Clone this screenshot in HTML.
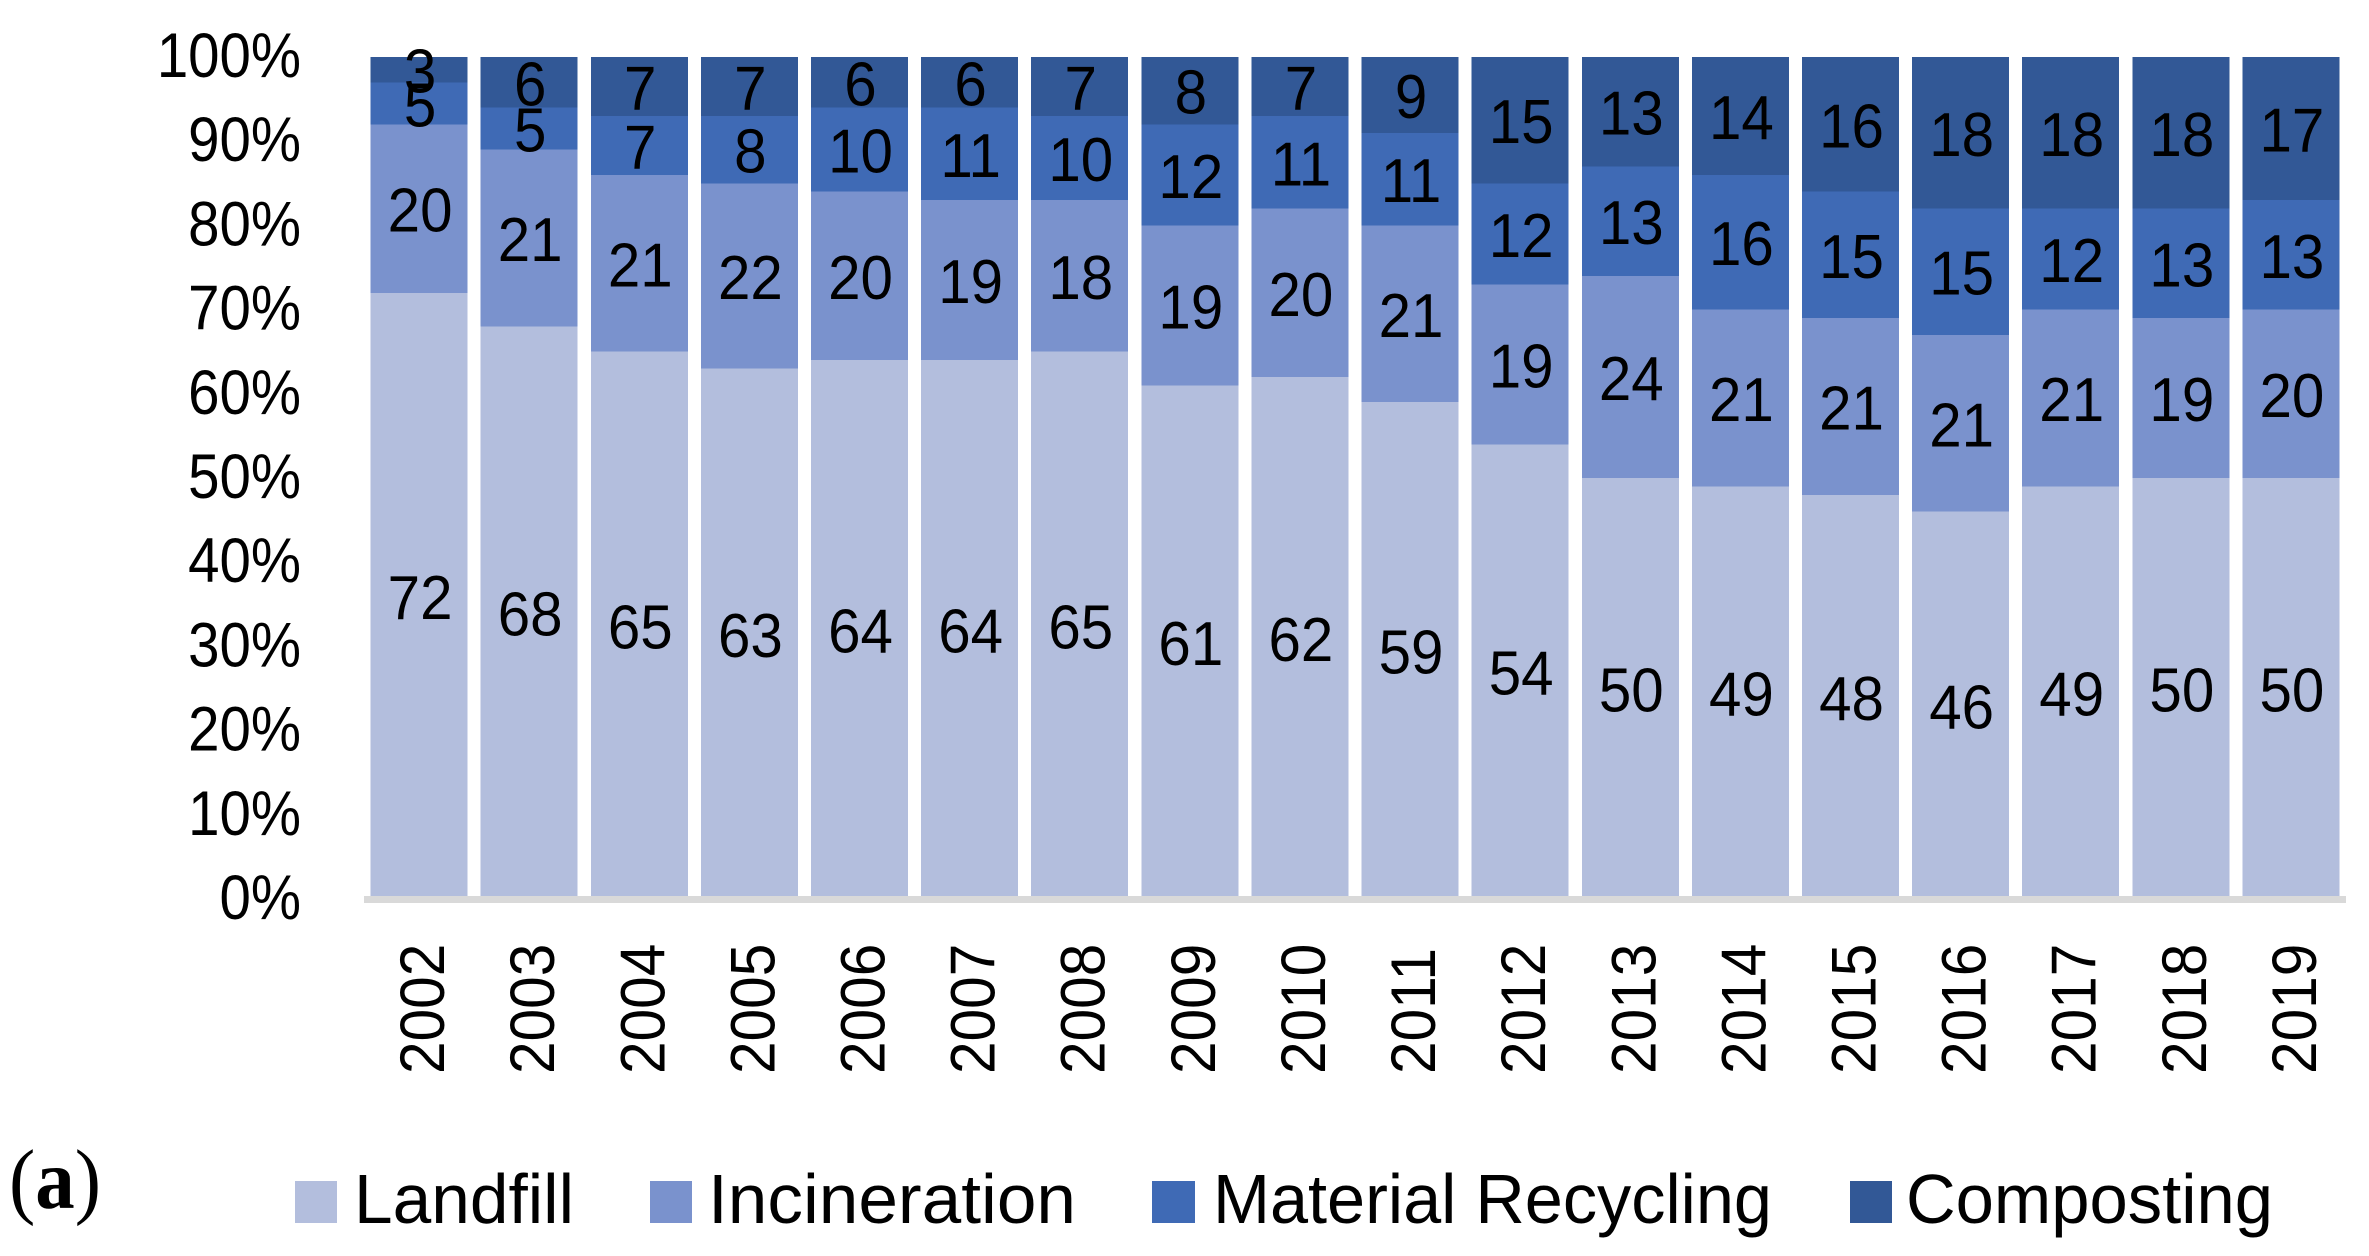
<!DOCTYPE html>
<html lang="en">
<head>
<meta charset="utf-8">
<title>Waste treatment shares 2002–2019</title>
<style>
html,body{margin:0;padding:0;background:#fff;width:2369px;height:1256px;overflow:hidden}
svg{display:block}
text{font-family:"Liberation Sans",sans-serif;fill:#000}
</style>
</head>
<body>
<svg id="chart" xmlns="http://www.w3.org/2000/svg" width="2369" height="1256" viewBox="0 0 2369 1256">
  <rect x="0" y="0" width="2369" height="1256" fill="#ffffff"/>
  <g id="bars"></g>
  <rect x="364" y="896" width="1982" height="7" fill="#d9d9d9"/>
  <g id="y-ticks"></g>
  <g id="x-ticks"></g>
  <g id="values"></g>
  <text x="9" y="1208" font-size="85" textLength="92" lengthAdjust="spacingAndGlyphs" style='font-family:"Liberation Serif",serif'>(<tspan font-weight="bold">a</tspan>)</text>
  <g>
    <g>
      <rect x="295" y="1181" width="42" height="42" fill="#b3bedd"/>
      <text x="354" y="1223" font-size="70" textLength="220" lengthAdjust="spacingAndGlyphs">Landfill</text>
    </g>
    <g>
      <rect x="650" y="1181" width="42" height="42" fill="#7a92cd"/>
      <text x="708" y="1223" font-size="70" textLength="368" lengthAdjust="spacingAndGlyphs">Incineration</text>
    </g>
    <g>
      <rect x="1152" y="1181" width="43" height="42" fill="#3f6ab5"/>
      <text x="1213" y="1223" font-size="70" textLength="559" lengthAdjust="spacingAndGlyphs">Material Recycling</text>
    </g>
    <g>
      <rect x="1850" y="1181" width="42" height="42" fill="#325896"/>
      <text x="1906" y="1223" font-size="70" textLength="367" lengthAdjust="spacingAndGlyphs">Composting</text>
    </g>
  </g>
</svg>
<script>
const years = ['2002','2003','2004','2005','2006','2007','2008','2009','2010','2011','2012','2013','2014','2015','2016','2017','2018','2019'];
const landfill = [72,68,65,63,64,64,65,61,62,59,54,50,49,48,46,49,50,50];
const incineration = [20,21,21,22,20,19,18,19,20,21,19,24,21,21,21,21,19,20];
const materialRecycling = [5,5,7,8,10,11,10,12,11,11,12,13,16,15,15,12,13,13];
const composting = [3,6,7,7,6,6,7,8,7,9,15,13,14,16,18,18,18,17];
const yTicks = ['0%','10%','20%','30%','40%','50%','60%','70%','80%','90%','100%'];

const NS = 'http://www.w3.org/2000/svg';
const plot = {left: 364, band: 110.11, barWidth: 97, bottom: 899, top: 57};

function xCenter(i) { return plot.left + plot.band * (i + 0.5); }
function yScale(p) { return plot.bottom - (plot.bottom - plot.top) * p / 100; }
function yTickBaseline(i) { return 919 - i * 84.2; }

function make(tag, parent) {
  const el = document.createElementNS(NS, tag);
  parent.appendChild(el);
  return el;
}

const seriesNames = ['landfill', 'incineration', 'material-recycling', 'composting'];
const seriesValues = [landfill, incineration, materialRecycling, composting];
const seriesFill = ['#b3bedd', '#7a92cd', '#3f6ab5', '#325896'];

const barsG = document.getElementById('bars');
const valuesG = document.getElementById('values');
const yG = document.getElementById('y-ticks');
const xG = document.getElementById('x-ticks');

years.forEach(function (year, i) {
  const total = seriesValues.reduce(function (s, arr) { return s + arr[i]; }, 0);
  let cum = 0;
  seriesValues.forEach(function (arr, s) {
    const start = cum / total * 100;
    cum += arr[i];
    const end = cum / total * 100;
    const rect = make('rect', barsG);
    
    
    rect.setAttribute('x', (xCenter(i) - plot.barWidth / 2).toFixed(2));
    rect.setAttribute('y', yScale(end).toFixed(2));
    rect.setAttribute('width', plot.barWidth);
    rect.setAttribute('height', (yScale(start) - yScale(end)).toFixed(2));
    rect.setAttribute('fill', seriesFill[s]);
    rect.setAttribute('shape-rendering', 'crispEdges');

    const label = make('text', valuesG);
    
    
    label.setAttribute('font-size', '62');
    label.setAttribute('text-anchor', 'middle');
    label.setAttribute('transform', 'translate(' + (xCenter(i) + 1).toFixed(2) + ',' + (yScale((start + end) / 2) + 23).toFixed(2) + ') scale(0.94,1)');
    label.textContent = arr[i];
  });

  const yearLabel = make('text', xG);
  
  
  yearLabel.setAttribute('font-size', '63');
  yearLabel.setAttribute('transform', 'translate(' + (xCenter(i) + 25).toFixed(2) + ',1074) rotate(-90) scale(0.93,1)');
  yearLabel.textContent = year;
});

yTicks.forEach(function (tick, i) {
  const t = make('text', yG);
  
  
  t.setAttribute('font-size', '63');
  t.setAttribute('text-anchor', 'end');
  t.setAttribute('transform', 'translate(301,' + yTickBaseline(i).toFixed(2) + ') scale(0.895,1)');
  t.textContent = tick;
});
</script>
</body>
</html>
